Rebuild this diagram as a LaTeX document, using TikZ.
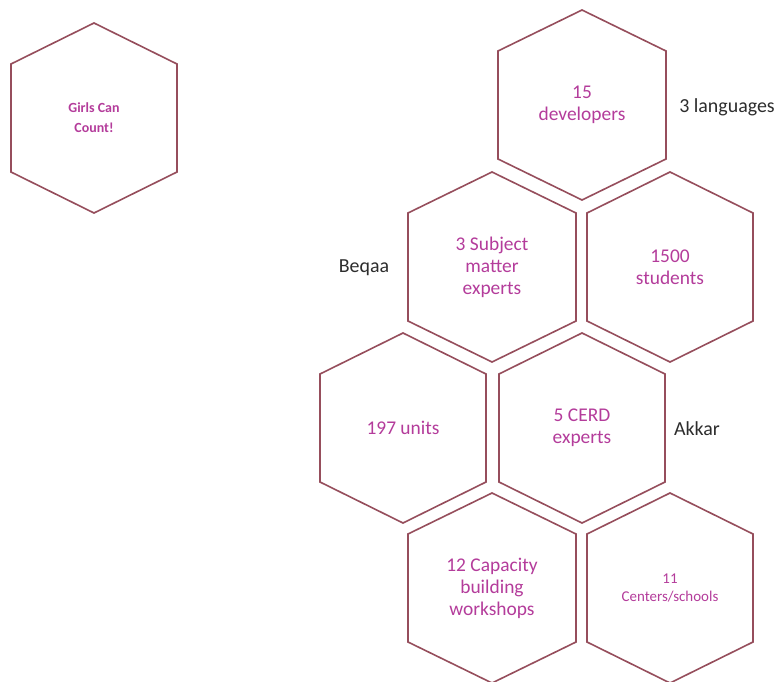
\documentclass[tikz,border=0pt]{standalone}
\usepackage{fontspec}
\setmainfont{Carlito}
\definecolor{hexline}{RGB}{150,78,92}
\definecolor{hextext}{RGB}{180,60,155}
\definecolor{labtext}{RGB}{45,45,45}
\tikzset{
  hexedge/.style={draw=hexline,line width=1.6bp,line join=miter},
  hexlabel/.style={text=hextext,align=center,font=\fontsize{19.5}{22}\selectfont,inner sep=0pt},
  smalllabel/.style={text=hextext,align=center,font=\fontsize{14}{20}\selectfont\bfseries,inner sep=0pt},
  tinylabel/.style={text=hextext,align=center,font=\fontsize{15}{19}\selectfont,inner sep=0pt},
  sidelabel/.style={text=labtext,font=\fontsize{20}{24}\selectfont,inner sep=0pt},
}
\newcommand\hexaround[2]{% #1 = node name, #2 = half width
  \draw[hexedge] (#1.center) ++(0,-95) -- ++(-#2,41) -- ++(0,108) -- ++(#2,41)
    -- ++(#2,-41) -- ++(0,-108) -- cycle;}
\begin{document}
\begin{tikzpicture}[x=1bp,y=-1bp]
\useasboundingbox[fill=white] (0,0) rectangle (779,682);
% hexagon centres with their texts
\node[smalllabel] (girls) at (94,118) {Girls Can\\Count!};
\node[hexlabel] (dev) at (582,105) {15\\developers};
\node[hexlabel] (sme) at (492,267) {3 Subject\\matter\\experts};
\node[hexlabel] (stud) at (670,267) {1500\\students};
\node[hexlabel] (units) at (403,428) {197 units};
\node[hexlabel] (cerd) at (582,428) {5 CERD\\experts};
\node[hexlabel] (cap) at (492,588) {12 Capacity\\building\\workshops};
\node[tinylabel] (cent) at (670,588) {11\\Centers/schools};
% hexagon outlines
\hexaround{girls}{83}
\hexaround{dev}{84}
\hexaround{sme}{84}
\hexaround{stud}{83}
\hexaround{units}{83}
\hexaround{cerd}{83}
\hexaround{cap}{84}
\hexaround{cent}{83}
% side labels
\node[sidelabel] (lang) at (727,107) {3 languages};
\node[sidelabel] (beqaa) at (364,268) {Beqaa};
\node[sidelabel] (akkar) at (697,429) {Akkar};
\end{tikzpicture}
\end{document}
